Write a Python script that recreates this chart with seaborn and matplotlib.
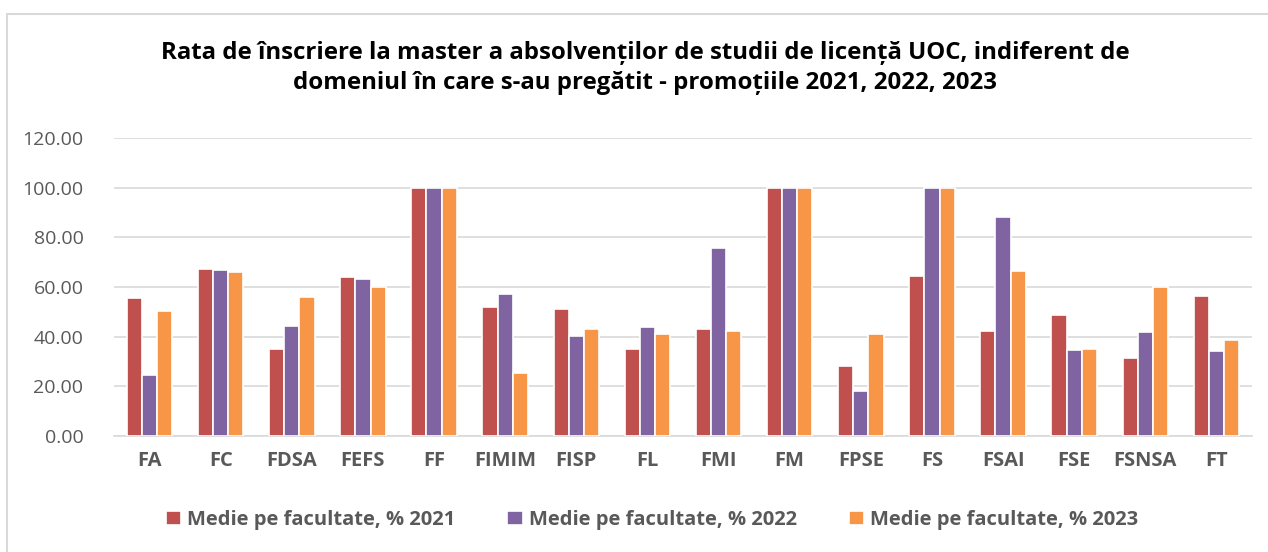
import matplotlib
matplotlib.use("Agg")
import matplotlib.pyplot as plt
import seaborn as sns
import pandas as pd
from matplotlib.patches import Rectangle

faculties = ["FA", "FC", "FDSA", "FEFS", "FF", "FIMIM", "FISP", "FL",
             "FMI", "FM", "FPSE", "FS", "FSAI", "FSE", "FSNSA", "FT"]
rate_2021 = [55.6, 67.2, 35.2, 64.2, 100.0, 51.9, 51.2, 35.2,
             43.1, 100.0, 28.2, 64.5, 42.3, 48.7, 31.5, 56.5]
rate_2022 = [24.7, 66.9, 44.4, 63.2, 100.0, 57.3, 40.2, 44.0,
             75.7, 100.0, 18.0, 100.0, 88.3, 34.7, 41.9, 34.4]
rate_2023 = [50.4, 66.0, 55.9, 59.9, 100.0, 25.3, 43.0, 41.1,
             42.2, 100.0, 41.1, 100.0, 66.5, 35.1, 60.2, 38.6]
series_names = ["Medie pe facultate, % 2021",
                "Medie pe facultate, % 2022",
                "Medie pe facultate, % 2023"]
colors = ["#C0504D", "#8064A2", "#F79646"]
title = ("Rata de înscriere la master a absolvenților de studii de licență UOC, indiferent de\n"
         "domeniul în care s-au pregătit - promoțiile 2021, 2022, 2023")

df = pd.concat([
    pd.DataFrame({"Facultate": faculties, "Rata": vals, "Serie": name})
    for vals, name in zip([rate_2021, rate_2022, rate_2023], series_names)
])

sns.set_theme(style="white")
plt.rcParams["font.family"] = ["Open Sans", "DejaVu Sans"]

fig = plt.figure(figsize=(12.68, 5.52), dpi=100)
ax = fig.add_axes([114 / 1268, 1 - 436 / 552, (1252 - 114) / 1268, (436 - 138) / 552])

sns.barplot(data=df, x="Facultate", y="Rata", hue="Serie", palette=colors,
            width=0.64, edgecolor="white", linewidth=1.2, saturation=1,
            ax=ax, zorder=3)

ax.set_ylim(0, 120)
ax.set_yticks(range(0, 121, 20))
ax.set_yticklabels([f"{v:.2f}" for v in range(0, 121, 20)],
                   fontsize=14, color="#595959")
ax.yaxis.grid(True, color="#D9D9D9", linewidth=1.2, zorder=0)
ax.set_axisbelow(True)
for s in ["top", "right", "left"]:
    ax.spines[s].set_visible(False)
ax.spines["bottom"].set_color("#D9D9D9")
ax.spines["bottom"].set_linewidth(1.2)
ax.tick_params(axis="both", length=0)
ax.tick_params(axis="y", pad=22)
ax.tick_params(axis="x", pad=11)
for lbl in ax.get_xticklabels():
    lbl.set_fontweight("bold")
    lbl.set_fontsize(14.5)
    lbl.set_color("#595959")
ax.set_xlabel("")
ax.set_ylabel("")
ax.set_xlim(-0.5, len(faculties) - 0.5)

handles, labels = ax.get_legend_handles_labels()
ax.get_legend().remove()
leg = fig.legend(handles, labels, loc="center", bbox_to_anchor=(652 / 1268, 1 - 520 / 552),
                 ncol=3, frameon=False, columnspacing=2.6, handlelength=0.75,
                 handleheight=0.75, handletextpad=0.3,
                 prop={"weight": "bold", "size": 14.5})
for t in leg.get_texts():
    t.set_color("#595959")

fig.text(645 / 1268, 1 - 68 / 552, title, ha="center", va="center",
         fontsize=17.3, fontweight="bold", color="black", linespacing=1.3)

fig.patches.append(Rectangle((7 / 1268, -0.05), 1.2, 1 - 14 / 552 + 0.05,
                             transform=fig.transFigure, fill=False,
                             edgecolor="#D9D9D9", linewidth=1.5))

fig.savefig("out.png", dpi=100, facecolor="white")
